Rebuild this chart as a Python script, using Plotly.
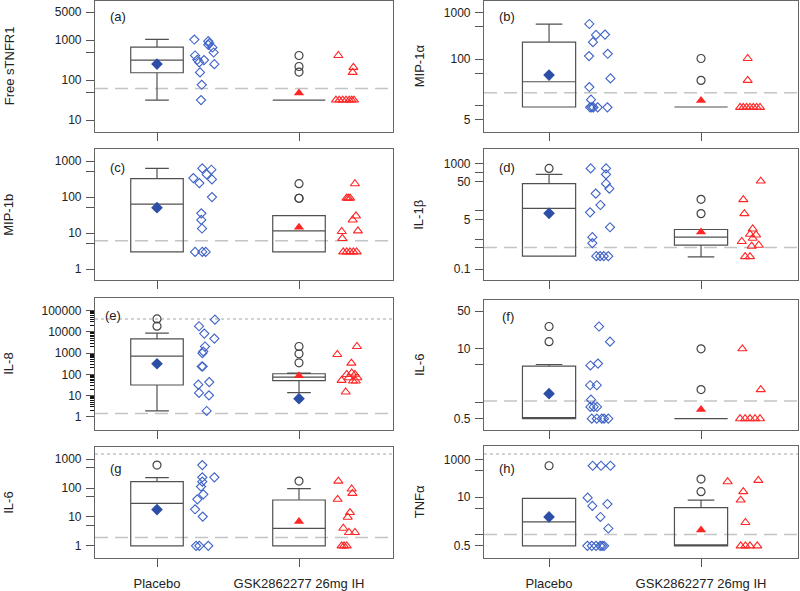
import plotly.graph_objects as go

# ---------------- data ----------------
groups = ["Placebo", "GSK2862277 26mg IH"]
panel_letters = ["(a)", "(b)", "(c)", "(d)", "(e)", "(f)", "(g", "(h)"]
y_titles = ["Free sTNFR1", "MIP-1α", "MIP-1b", "IL-1β", "IL-8", "IL-6", "IL-6", "TNFα"]

# box stats: [lower whisker, q1, median, q3, upper whisker]
# (a) Free sTNFR1
a_pbo_box = [32, 154, 318, 670, 1050]
a_pbo_out = []
a_pbo_mean = 253
a_pbo_vals = [1037, 943, 841, 764, 656, 493, 415, 324, 318, 278, 252, 157, 77, 32]
a_pbo_jit = [0.263, 0.361, 0.368, 0.361, 0.39, 0.399, 0.268, 0.284, 0.331, 0.298, 0.404, 0.303, 0.315, 0.31]
a_gsk_box = [32, 32, 32, 32, 32]
a_gsk_out = [415, 220, 160]
a_gsk_mean = 48
a_gsk_vals = [415, 209, 157, 32, 32, 32, 32, 32, 32, 32]
a_gsk_jit = [0.277, 0.383, 0.378, 0.26, 0.284, 0.308, 0.331, 0.354, 0.371, 0.387]
a_lloq, a_uloq = 62, None

# (b) MIP-1a
b_pbo_box = [9.4, 9.4, 32.7, 231, 560]
b_pbo_out = []
b_pbo_mean = 45.5
b_pbo_vals = [567, 330, 336, 231, 130, 116, 38.5, 25.2, 13.5, 9.25, 9.25, 9.25, 9.25, 9.25]
b_pbo_jit = [0.265, 0.309, 0.368, 0.289, 0.386, 0.263, 0.404, 0.265, 0.276, 0.27, 0.281, 0.292, 0.32, 0.384]
b_gsk_box = [9.4, 9.4, 9.4, 9.4, 9.4]
b_gsk_out = [103, 35]
b_gsk_mean = 12.9
b_gsk_vals = [103, 35, 9.25, 9.25, 9.25, 9.25, 9.25, 9.25, 9.25]
b_gsk_jit = [0.307, 0.307, 0.257, 0.278, 0.3, 0.322, 0.344, 0.366, 0.388]
b_lloq, b_uloq = 19, None

# (c) MIP-1b
c_pbo_box = [3.0, 3.0, 64, 325, 628]
c_pbo_out = []
c_pbo_mean = 51
c_pbo_vals = [628, 578, 428, 339, 311, 246, 100, 35.5, 23.2, 13.4, 3.0, 3.0, 3.0]
c_pbo_jit = [0.319, 0.383, 0.35, 0.256, 0.387, 0.298, 0.387, 0.312, 0.312, 0.317, 0.268, 0.319, 0.343]
c_gsk_box = [3.0, 3.0, 11.5, 30.7, 30.7]
c_gsk_out = [236, 93, 93]
c_gsk_mean = 14.6
c_gsk_vals = [236, 94, 94, 94, 30, 23.2, 11.1, 11.5, 7.1, 3.0, 3.0, 3.0, 3.0, 3.0]
c_gsk_jit = [0.394, 0.335, 0.347, 0.36, 0.401, 0.378, 0.301, 0.415, 0.305, 0.312, 0.336, 0.359, 0.383, 0.406]
c_lloq, c_uloq = 6.1, None

# (d) IL-1b
d_pbo_box = [0.28, 0.28, 12.7, 90, 189]
d_pbo_out = [304]
d_pbo_mean = 8.5
d_pbo_vals = [304, 304, 189, 90, 60.7, 41, 16.5, 9.2, 2.8, 1.27, 0.79, 0.28, 0.28, 0.28, 0.28]
d_pbo_jit = [0.274, 0.375, 0.375, 0.375, 0.397, 0.307, 0.338, 0.27, 0.401, 0.285, 0.285, 0.311, 0.336, 0.36, 0.39]
d_gsk_box = [0.265, 0.67, 1.27, 2.34, 2.34]
d_gsk_out = [26, 8.3]
d_gsk_mean = 1.93
d_gsk_vals = [111, 25.3, 8.3, 2.45, 1.61, 1.52, 0.9, 1.17, 0.67, 0.62, 0.27, 0.27]
d_gsk_jit = [0.393, 0.278, 0.285, 0.34, 0.322, 0.362, 0.268, 0.34, 0.38, 0.333, 0.29, 0.322]
d_lloq, d_uloq = 0.56, None

# (e) IL-8
e_pbo_box = [1.9, 31.6, 726, 4710, 8690]
e_pbo_out = [40700, 18500]
e_pbo_mean = 316
e_pbo_vals = [37800, 18500, 8330, 4860, 2050, 1200, 1000, 236, 236, 32.7, 43.6, 13.4, 10.3, 1.9]
e_pbo_jit = [0.408, 0.296, 0.333, 0.404, 0.338, 0.326, 0.32, 0.315, 0.322, 0.291, 0.368, 0.296, 0.366, 0.35]
e_gsk_box = [13.8, 50.5, 75, 107, 115]
e_gsk_out = [2050, 935, 352]
e_gsk_mean = 86
e_gsk_extra_diamond = 7.2
e_gsk_vals = [2050, 863, 339, 116, 99.5, 101, 70, 70, 52, 49, 49, 14.8]
e_gsk_jit = [0.408, 0.27, 0.369, 0.371, 0.336, 0.394, 0.411, 0.35, 0.3, 0.38, 0.4, 0.329]
e_lloq, e_uloq = 1.43, 40700

# (f) IL-6
f_pbo_box = [0.5, 0.5, 0.5, 4.78, 5.1]
f_pbo_out = [26, 13.6]
f_pbo_mean = 1.46
f_pbo_vals = [26, 13.6, 4.9, 5.3, 2.1, 2.1, 1.13, 0.83, 0.83, 0.83, 0.5, 0.5, 0.5, 0.5, 0.5]
f_pbo_jit = [0.329, 0.401, 0.272, 0.322, 0.27, 0.314, 0.276, 0.272, 0.294, 0.316, 0.281, 0.314, 0.347, 0.362, 0.39]
f_gsk_box = [0.5, 0.5, 0.5, 0.5, 0.5]
f_gsk_out = [10, 1.74]
f_gsk_mean = 0.74
f_gsk_vals = [10, 1.74, 0.5, 0.5, 0.5, 0.5, 0.5]
f_gsk_jit = [0.272, 0.393, 0.257, 0.29, 0.322, 0.355, 0.388]
f_lloq, f_uloq = 1.07, None

# (g) IL-6
g_pbo_box = [1, 1, 29.7, 166, 228]
g_pbo_out = [621]
g_pbo_mean = 18
g_pbo_vals = [621, 234, 234, 166, 112, 60.7, 40.7, 18.4, 10.3, 1, 1, 1]
g_pbo_jit = [0.319, 0.404, 0.319, 0.319, 0.31, 0.326, 0.284, 0.268, 0.322, 0.275, 0.298, 0.361]
g_gsk_box = [1, 1, 4.0, 38.5, 95]
g_gsk_out = [174]
g_gsk_mean = 6.9
g_gsk_vals = [174, 92.5, 65.6, 40.7, 14.2, 9.8, 4.07, 2.9, 2.9, 1, 1, 1]
g_gsk_jit = [0.277, 0.371, 0.376, 0.272, 0.359, 0.343, 0.312, 0.352, 0.394, 0.3, 0.317, 0.336]
g_lloq, g_uloq = 1.95, 1490

# (h) TNFa
h_pbo_box = [0.5, 0.5, 2.17, 9.2, 9.2]
h_pbo_out = [68]
h_pbo_mean = 2.94
h_pbo_vals = [68, 68, 68, 9.6, 6.5, 5.8, 2.94, 1.45, 0.5, 0.5, 0.5, 0.5, 0.5, 0.5]
h_pbo_jit = [0.287, 0.342, 0.404, 0.254, 0.384, 0.285, 0.338, 0.39, 0.252, 0.281, 0.309, 0.336, 0.349, 0.362]
h_gsk_box = [0.5, 0.5, 0.5, 5.2, 8.3]
h_gsk_out = [30, 13.9]
h_gsk_mean = 1.33
h_gsk_vals = [25.6, 27.7, 13.9, 8.3, 2.09, 0.5, 0.5, 0.5, 0.5]
h_gsk_jit = [0.175, 0.377, 0.278, 0.261, 0.292, 0.261, 0.292, 0.322, 0.37]
h_lloq, h_uloq = 1.0, 139

# y-axis tick values / labels as printed
a_ticks, a_labels = [10, 50, 100, 500, 1000, 5000], ["10", "", "100", "", "1000", "5000"]
b_ticks, b_labels = [5, 10, 50, 100, 500, 1000], ["5", "", "", "100", "", "1000"]
c_ticks, c_labels = [1, 5, 10, 50, 100, 500, 1000], ["1", "", "10", "", "100", "", "1000"]
d_ticks, d_labels = [0.1, 0.56, 1.06, 5.2, 10.6, 106, 216, 442], ["0.1", "", "", "5", "", "50", "", "1000"]
e_ticks, e_labels = [1, 10, 100, 1000, 10000, 100000], ["1", "10", "100", "1000", "10000", "100000"]
f_ticks, f_labels = [0.5, 1, 5, 10, 50], ["0.5", "", "", "10", "50"]
g_ticks, g_labels = [1, 5, 10, 50, 100, 500, 1000], ["1", "", "10", "", "100", "", "1000"]
h_ticks, h_labels = [0.5, 1, 5, 10, 50, 100], ["0.5", "", "", "10", "", "1000"]

# ---------------- layout / style ----------------
W, H = 800, 591
FONT = "Liberation Sans, Arial, sans-serif"
col_px = [(95, 393), (484, 798)]
x_ranges = [(0.5634, 2.662), (0.572, 2.638)]
box_w = [0.37, 0.35]
whisk_w = [0.45, 0.5]
row_px = [[(1, 132), (1, 132)], [(150, 281), (150, 281)],
          [(299, 431), (301, 431.5)], [(449, 560), (448, 560)]]
y_ranges = [(0.719, 3.978), (0.447, 3.246), (-0.305, 3.324), (-1.379, 3.138),
            (-0.596, 5.596), (-0.512, 1.909), (-0.424, 3.403), (-0.628, 2.346)]
letter_px = [(108, 17), (497, 17), (108, 168), (497, 168), (103, 317), (500, 318), (108, 470), (497, 470)]
title_x = [9, 419]

BLUE = "#3f63c8"
BLUE_D = "#2c4ea6"
RED = "#ff2626"
GRAY = "#444444"

panels = []
for key in "abcdefgh":
    g = globals()
    panels.append(dict(
        pbo=(g[key + "_pbo_box"], g[key + "_pbo_out"], g[key + "_pbo_mean"], g[key + "_pbo_vals"], g[key + "_pbo_jit"]),
        gsk=(g[key + "_gsk_box"], g[key + "_gsk_out"], g[key + "_gsk_mean"], g[key + "_gsk_vals"], g[key + "_gsk_jit"]),
        lloq=g[key + "_lloq"], uloq=g[key + "_uloq"],
        ticks=g[key + "_ticks"], labels=g[key + "_labels"]))

fig = go.Figure()
layout = {}
shapes = []
annotations = []

for k, p in enumerate(panels):
    row, col = divmod(k, 2)
    xa = "x" if k == 0 else f"x{k+1}"
    ya = "y" if k == 0 else f"y{k+1}"
    xk = "xaxis" if k == 0 else f"xaxis{k+1}"
    yk = "yaxis" if k == 0 else f"yaxis{k+1}"

    for gi, grp in enumerate(["pbo", "gsk"]):
        box, outl, mean, vals, jit = p[grp]
        pos = gi + 1
        fig.add_trace(go.Box(
            x=[pos], lowerfence=[box[0]], q1=[box[1]], median=[box[2]], q3=[box[3]], upperfence=[box[4]],
            width=box_w[col], whiskerwidth=whisk_w[col], fillcolor="rgba(0,0,0,0)",
            line=dict(color="#505050", width=1.2), boxpoints=False, showlegend=False,
            hoverinfo="skip", xaxis=xa, yaxis=ya))
        if outl:
            fig.add_trace(go.Scatter(
                x=[pos] * len(outl), y=outl, mode="markers", showlegend=False, xaxis=xa, yaxis=ya,
                marker=dict(symbol="circle-open", size=8, color=GRAY, line=dict(width=1.2))))
        if grp == "pbo":
            sym_open, col_open, sym_mean, col_mean = "diamond-open", BLUE, "diamond", BLUE_D
            s_open, s_mean = 7, 9
        else:
            sym_open, col_open, sym_mean, col_mean = "triangle-up-open", RED, "triangle-up", RED
            s_open, s_mean = 8, 9
        fig.add_trace(go.Scatter(
            x=[pos + j for j in jit], y=vals, mode="markers", showlegend=False, xaxis=xa, yaxis=ya,
            marker=dict(symbol=sym_open, size=s_open, color=col_open, line=dict(width=1.1))))
        fig.add_trace(go.Scatter(
            x=[pos], y=[mean], mode="markers", showlegend=False, xaxis=xa, yaxis=ya,
            marker=dict(symbol=sym_mean, size=s_mean, color=col_mean, line=dict(width=0))))
    if k == 4:
        fig.add_trace(go.Scatter(
            x=[2], y=[e_gsk_extra_diamond], mode="markers", showlegend=False, xaxis=xa, yaxis=ya,
            marker=dict(symbol="diamond", size=9, color=BLUE_D, line=dict(width=0))))

    if p["lloq"] is not None:
        shapes.append(dict(type="line", xref=f"{xa} domain", x0=0, x1=1, yref=ya, y0=p["lloq"], y1=p["lloq"],
                           layer="below", line=dict(color="#c4c4c4", width=1.5, dash="13px,7px")))
    if p["uloq"] is not None:
        shapes.append(dict(type="line", xref=f"{xa} domain", x0=0, x1=1, yref=ya, y0=p["uloq"], y1=p["uloq"],
                           layer="below", line=dict(color="#c4c4c4", width=1.5, dash="dot")))

    x0, x1 = col_px[col]
    y0, y1 = row_px[row][col]
    layout[xk] = dict(domain=[x0 / W, x1 / W], range=list(x_ranges[col]), anchor=ya,
                      tickmode="array", tickvals=[1, 2], ticktext=groups, showticklabels=(row == 3),
                      ticks="outside", ticklen=8, tickcolor="#555555", tickwidth=1,
                      showline=True, mirror=True, linecolor="#666666", linewidth=1.2,
                      showgrid=False, zeroline=False, ticklabelstandoff=5,
                      tickfont=dict(size=13, color="#222222", family=FONT))
    ydict = dict(domain=[1 - y1 / H, 1 - y0 / H], type="log", range=list(y_ranges[k]), anchor=xa,
                 tickmode="array", tickvals=p["ticks"], ticktext=p["labels"],
                 ticks="outside", ticklen=8, tickcolor="#555555", tickwidth=1,
                 showline=True, mirror=True, linecolor="#666666", linewidth=1.2,
                 showgrid=False, zeroline=False, ticklabelstandoff=2,
                 tickfont=dict(size=12, color="#222222", family=FONT))
    if k == 4:
        ydict["minor"] = dict(tickmode="array",
                              tickvals=[m * 10 ** e for e in range(0, 5) for m in range(2, 10)],
                              ticks="outside", ticklen=4, tickwidth=1.4, tickcolor="#111111", showgrid=False)
    layout[yk] = ydict

    lx, ly = letter_px[k]
    annotations.append(dict(text=panel_letters[k], xref="paper", yref="paper", x=lx / W, y=1 - ly / H,
                            xanchor="left", yanchor="middle", showarrow=False,
                            font=dict(size=13, color="#222222", family=FONT)))
    annotations.append(dict(text=y_titles[k], xref="paper", yref="paper", x=title_x[col] / W,
                            y=1 - (y0 + y1) / 2 / H, xanchor="center", yanchor="middle", textangle=-90,
                            showarrow=False, font=dict(size=13, color="#222222", family=FONT)))

fig.update_layout(width=W, height=H, margin=dict(l=0, r=0, t=0, b=0),
                  paper_bgcolor="white", plot_bgcolor="white", showlegend=False,
                  shapes=shapes, annotations=annotations, font=dict(family=FONT), **layout)
fig.write_html("out.html", config={"displayModeBar": False},
               post_script="document.body.style.margin='0px';document.body.style.overflow='hidden';")
